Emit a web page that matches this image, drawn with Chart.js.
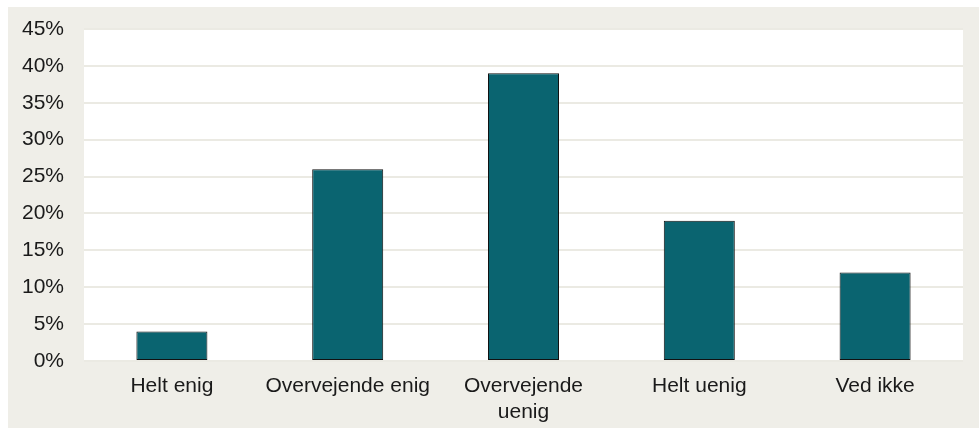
<!DOCTYPE html>
<html>
<head>
<meta charset="utf-8">
<script src="https://cdn.jsdelivr.net/npm/chart.js@4/dist/chart.umd.min.js"></script>
<style>
  html, body { margin: 0; padding: 0; background: #ffffff; }
  #wrap { position: absolute; left: 8px; top: 7px; width: 971px; height: 421px; background: #efeee8; }
  canvas { display: block; }
</style>
</head>
<body>
<div id="wrap"><canvas id="c" width="971" height="421"></canvas></div>
<script>
const categories = ["Helt enig", "Overvejende enig", ["Overvejende", "uenig"], "Helt uenig", "Ved ikke"];
const values = [4, 26, 39, 19, 12];
const yTicks = [0, 5, 10, 15, 20, 25, 30, 35, 40, 45];

const plotBg = {
  id: 'plotBg',
  beforeDraw(chart) {
    const { ctx, chartArea: a } = chart;
    ctx.save();
    ctx.fillStyle = '#ffffff';
    ctx.fillRect(a.left, a.top, a.right - a.left, a.bottom - a.top);
    ctx.restore();
  }
};

new Chart(document.getElementById('c'), {
  type: 'bar',
  data: {
    labels: categories,
    datasets: [{
      data: values,
      backgroundColor: '#0a6470',
      borderColor: '#111111',
      borderWidth: 1,
      borderSkipped: false,
      barPercentage: 0.404,
      categoryPercentage: 1.0
    }]
  },
  options: {
    responsive: false,
    animation: false,
    devicePixelRatio: 1,
    layout: { padding: { left: 0, right: 16, top: 22, bottom: 0 } },
    plugins: { legend: { display: false }, tooltip: { enabled: false } },
    scales: {
      x: {
        grid: { display: false, drawTicks: false },
        border: { display: false },
        ticks: {
          color: '#1a1a1a',
          font: { family: 'Liberation Sans, Arial, sans-serif', size: 21, lineHeight: 1.25 },
          padding: 12,
          maxRotation: 0,
          autoSkip: false
        },
        afterFit(s) { s.height = 67; s.paddingLeft = 0; s.paddingRight = 0; }
      },
      y: {
        min: 0, max: 45,
        afterBuildTicks(s) { s.ticks = yTicks.map(v => ({ value: v })); },
        grid: { color: '#ebeae3', lineWidth: 2, drawTicks: false },
        border: { display: false },
        ticks: {
          color: '#1a1a1a',
          font: { family: 'Liberation Sans, Arial, sans-serif', size: 21 },
          padding: 20,
          callback: v => v + '%'
        },
        afterFit(s) { s.width = 76; s.paddingTop = 0; s.paddingBottom = 0; }
      }
    }
  },
  plugins: [plotBg]
});
</script>
</body>
</html>
